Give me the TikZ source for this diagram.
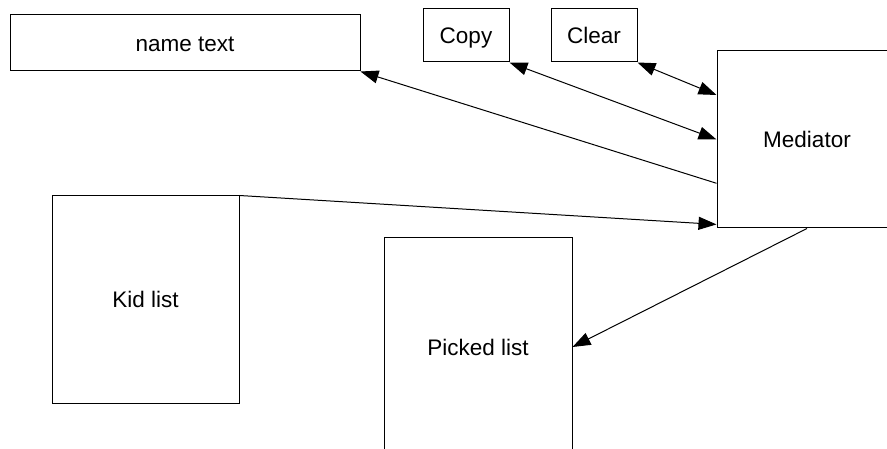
\documentclass[tikz,border=0pt]{standalone}
\usepackage{fontspec}
\setmainfont{Liberation Sans}
\usetikzlibrary{arrows.meta,calc}
\begin{document}
\begin{tikzpicture}[x=1pt,y=-1pt,
  >={Triangle[length=18pt,width=13pt]},
  box/.style={draw=black,line width=1pt,rectangle,inner sep=0pt,text height=16.1pt,text depth=0pt,font=\fontsize{22.5}{27}\selectfont},
  conn/.style={line width=1pt,draw=black}]
\clip (0,0) rectangle (887,449);
\fill[white] (0,0) rectangle (887,449);
\node[box,minimum width=350pt,minimum height=56pt] (name) at (185,43) {name text};
\node[box,minimum width=86pt,minimum height=53pt] (copy) at (466,35.5) {Copy};
\node[box,minimum width=86pt,minimum height=53pt] (clear) at (594,35.5) {Clear};
\node[box,minimum width=180pt,minimum height=177pt] (med) at (807,139.5) {Mediator};
\node[box,minimum width=187pt,minimum height=207pt] (kid) at (145.5,299.5) {Kid list};
\node[box,minimum width=188pt,minimum height=218pt] (picked) at (478,347) {Picked list};
\draw[conn,<->] (clear.south east) -- ($(med.north west)!0.25!(med.south west)$);
\draw[conn,<->] (copy.south east) -- (med.west);
\draw[conn,<-] (name.south east) -- ($(med.north west)!0.746!(med.south west)$);
\draw[conn,->] (kid.north east) -- ($(med.north west)!0.977!(med.south west)$);
\draw[conn,->] (med.south) -- (picked.east);
\end{tikzpicture}
\end{document}
